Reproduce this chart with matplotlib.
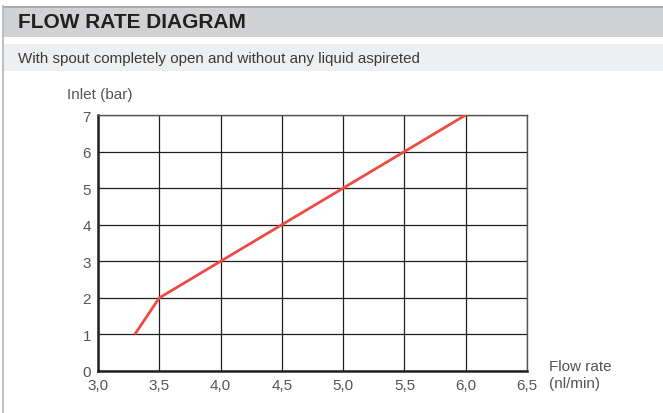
import matplotlib
matplotlib.use("Agg")
import matplotlib.pyplot as plt
from matplotlib.patches import Rectangle
from matplotlib.lines import Line2D
from matplotlib import font_manager

flow_rate = [3.3, 3.5, 4.0, 4.5, 5.0, 5.5, 6.0]
inlet_bar = [1, 2, 3, 4, 5, 6, 7]
x_ticks = [3.0, 3.5, 4.0, 4.5, 5.0, 5.5, 6.0, 6.5]
x_labels = ["3,0", "3,5", "4,0", "4,5", "5,0", "5,5", "6,0", "6,5"]
y_ticks = [0, 1, 2, 3, 4, 5, 6, 7]

plt.rcParams['font.family'] = ['Liberation Sans', 'DejaVu Sans']

names = {f.name for f in font_manager.fontManager.ttflist}
narrow = 'Liberation Sans Narrow' if 'Liberation Sans Narrow' in names else 'Liberation Sans'
nsize = 12 if narrow != 'Liberation Sans' else 11

W, H = 663, 414
fig = plt.figure(figsize=(W / 100, H / 100), dpi=100)

def fy(py):
    return 1 - py / H

fig.patches.append(Rectangle((3 / W, fy(38)), 1, 31 / H, transform=fig.transFigure,
                             facecolor='#d1d2d4', edgecolor='none', zorder=0))
fig.lines.append(Line2D([3 / W, 1], [fy(7.5), fy(7.5)], transform=fig.transFigure,
                        color='#a3a4a6', lw=1.2))
fig.patches.append(Rectangle((3 / W, fy(72)), 1, 27 / H, transform=fig.transFigure,
                             facecolor='#eeeff0', edgecolor='none', zorder=0))
fig.lines.append(Line2D([2.5 / W, 2.5 / W], [0, fy(7)], transform=fig.transFigure,
                        color='#b5b6b8', lw=1.2))

fig.text(18 / W, fy(22.5), "FLOW RATE DIAGRAM", fontsize=15, fontweight='bold',
         color='#231f20', va='center', ha='left')
fig.text(18 / W, fy(59), "With spout completely open and without any liquid aspireted",
         fontsize=10.9, color='#3a3a3a', va='center', ha='left')

ax = fig.add_axes([98 / W, 1 - 372 / H, (527 - 98) / W, (372 - 116) / H])
ax.set_xlim(3.0, 6.5)
ax.set_ylim(0, 7)
ax.set_xticks(x_ticks)
ax.set_xticklabels(x_labels, family=narrow, fontsize=nsize)
ax.set_yticks(y_ticks)
ax.set_yticklabels([str(v) for v in y_ticks], family=narrow, fontsize=nsize)
ax.grid(True, color='#231f20', lw=0.9)
ax.set_axisbelow(True)
for s in ['top', 'right']:
    ax.spines[s].set_color('#555555')
    ax.spines[s].set_linewidth(1.0)
for s in ['left', 'bottom']:
    ax.spines[s].set_color('#231f20')
    ax.spines[s].set_linewidth(1.8)
ax.tick_params(length=0, labelcolor='#555555', pad=5)
ax.plot(flow_rate, inlet_bar, color='#ee4b45', lw=2, solid_capstyle='butt', zorder=3)

fig.text(67 / W, fy(95), "Inlet (bar)", fontsize=nsize, family=narrow, color='#555555', va='center', ha='left')
fig.text(549 / W, fy(367), "Flow rate", fontsize=nsize, family=narrow, color='#555555', va='center', ha='left')
fig.text(549 / W, fy(384), "(nl/min)", fontsize=nsize, family=narrow, color='#555555', va='center', ha='left')

fig.savefig("out.png", dpi=100, facecolor='white')
